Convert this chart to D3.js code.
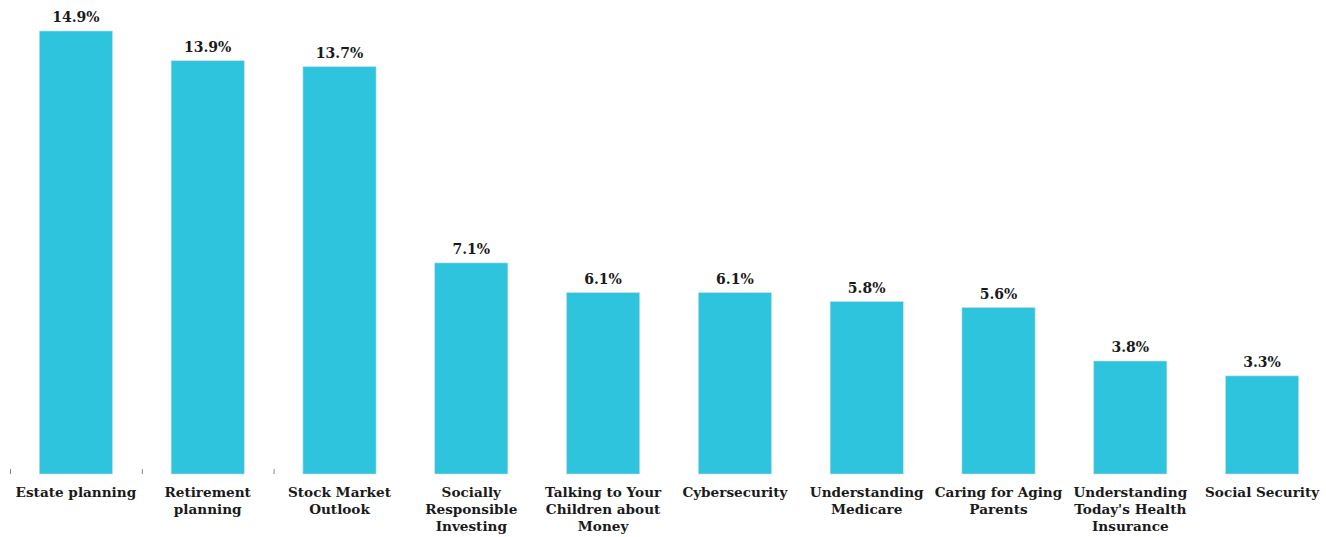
<!DOCTYPE html>
<html>
<head>
<meta charset="utf-8">
<script src="https://cdn.jsdelivr.net/npm/d3@7"></script>
<style>
  html, body { margin: 0; padding: 0; background: #fff; }
  svg { display: block; }
  .cat { font-family: "DejaVu Serif", serif; font-weight: bold; font-size: 13.6px; fill: #1a1a1a; }
  .val { font-family: "DejaVu Serif", serif; font-weight: bold; font-size: 14px; fill: #1a1a1a; }
</style>
</head>
<body>
<svg id="chart" width="1326" height="537"></svg>
<script>
// Share of respondents interested in each financial topic (%)
const categories = [
  "Estate planning",
  "Retirement planning",
  "Stock Market Outlook",
  "Socially Responsible Investing",
  "Talking to Your Children about Money",
  "Cybersecurity",
  "Understanding Medicare",
  "Caring for Aging Parents",
  "Understanding Today's Health Insurance",
  "Social Security"
];
const values = [14.9, 13.9, 13.7, 7.1, 6.1, 6.1, 5.8, 5.6, 3.8, 3.3];
// Line breaks for the category labels under each bar
const labelLines = [
  ["Estate planning"],
  ["Retirement", "planning"],
  ["Stock Market", "Outlook"],
  ["Socially", "Responsible", "Investing"],
  ["Talking to Your", "Children about", "Money"],
  ["Cybersecurity"],
  ["Understanding", "Medicare"],
  ["Caring for Aging", "Parents"],
  ["Understanding", "Today's Health", "Insurance"],
  ["Social Security"]
];

const svg = d3.select("#chart");
const baseY = 474;
const topY = 31;

const x = d3.scaleBand()
  .domain(categories)
  .range([10, 1328])
  .paddingInner(0.445)
  .paddingOuter(0.2225);

const y = d3.scaleLinear()
  .domain([0, 14.9])
  .range([baseY, topY]);

// small tick marks at the left edge of the first bands
svg.append("g")
  .selectAll("line")
  .data(categories.slice(0, 3))
  .join("line")
  .attr("x1", d => x(d) - x.step() * x.paddingInner() / 2 + 0.5)
  .attr("x2", d => x(d) - x.step() * x.paddingInner() / 2 + 0.5)
  .attr("y1", baseY - 5)
  .attr("y2", baseY)
  .attr("stroke", "#888")
  .attr("stroke-width", 1);

// bars
svg.append("g")
  .selectAll("rect")
  .data(categories)
  .join("rect")
  .attr("x", d => x(d))
  .attr("width", x.bandwidth())
  .attr("y", (d, i) => y(values[i]))
  .attr("height", (d, i) => baseY - y(values[i]))
  .attr("fill", "#2ec4de")
  .attr("stroke", "#c9dde2")
  .attr("stroke-width", 0.6);

// value labels
svg.append("g")
  .selectAll("text")
  .data(categories)
  .join("text")
  .attr("class", "val")
  .attr("x", d => x(d) + x.bandwidth() / 2)
  .attr("y", (d, i) => y(values[i]) - 9)
  .attr("text-anchor", "middle")
  .text((d, i) => values[i].toFixed(1) + "%");

// category labels
const catG = svg.append("g")
  .selectAll("text")
  .data(categories)
  .join("text")
  .attr("class", "cat")
  .attr("text-anchor", "middle")
  .attr("x", d => x(d) + x.bandwidth() / 2)
  .attr("y", 497);

catG.selectAll("tspan")
  .data((d, i) => labelLines[i])
  .join("tspan")
  .attr("x", function() { return d3.select(this.parentNode).attr("x"); })
  .attr("dy", (d, j) => j === 0 ? 0 : 17)
  .text(d => d);
</script>
</body>
</html>
